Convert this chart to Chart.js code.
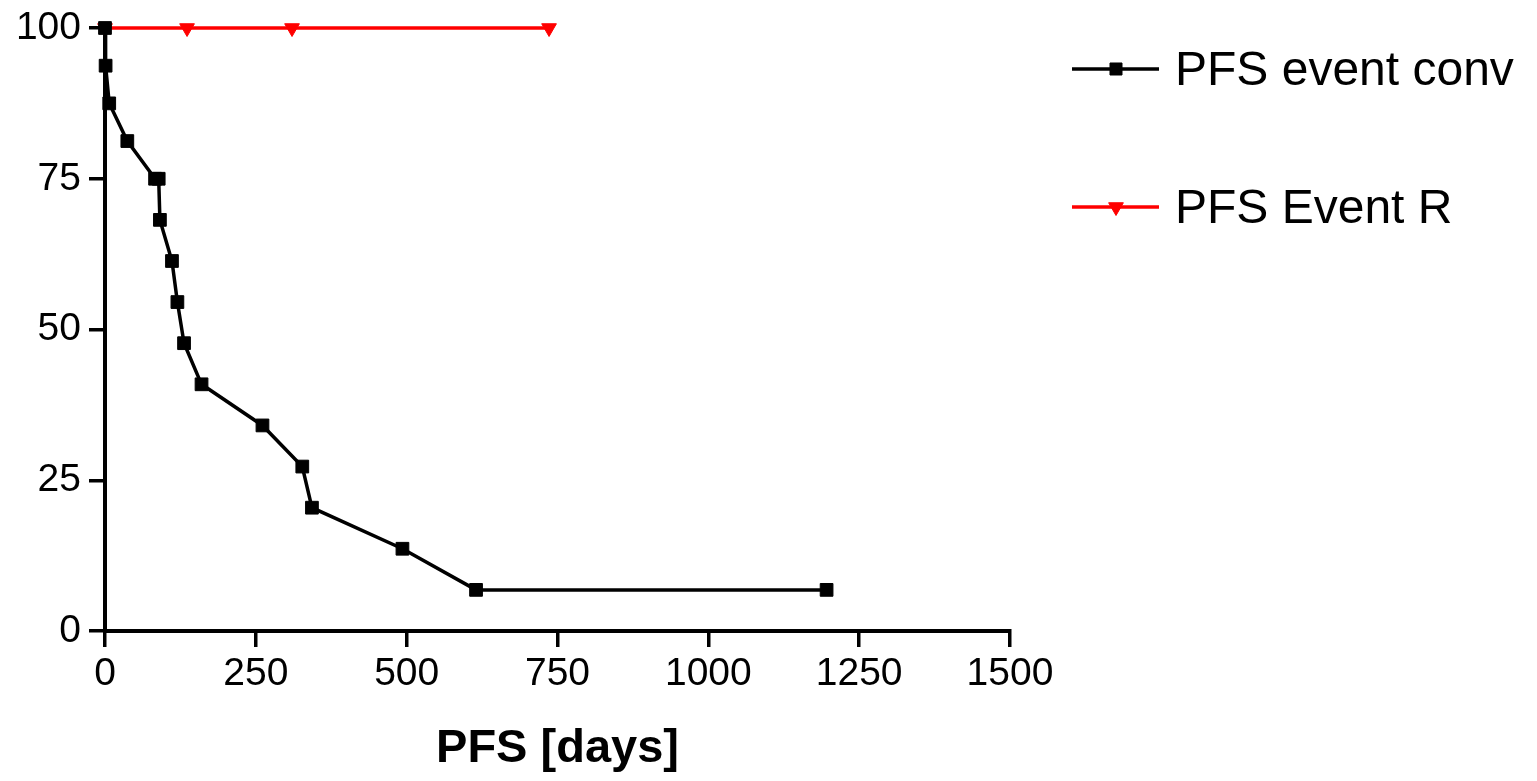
<!DOCTYPE html>
<html>
<head>
<meta charset="utf-8">
<script src="https://cdn.jsdelivr.net/npm/chart.js@4/dist/chart.umd.min.js"></script>
<style>
  html, body { margin: 0; padding: 0; background: #ffffff; }
  #wrap { width: 1537px; height: 781px; }
</style>
</head>
<body>
<div id="wrap"><canvas id="c" width="1537" height="781"></canvas></div>
<script>
// ---- data ----
const convLabel = 'PFS event conv';
const convDays  = [0, 1, 7, 37, 83, 89, 91, 111, 120, 131, 160, 261, 327, 343, 493, 615, 1196];
const convPFS   = [100, 93.75, 87.5, 81.25, 75, 75, 68.18, 61.36, 54.55, 47.73, 40.91, 34.09, 27.27, 20.45, 13.64, 6.82, 6.82];

const rLabel = 'PFS Event R';
const rDays  = [0, 136, 310, 736];
const rPFS   = [100, 100, 100, 100];

const xTicks = [0, 250, 500, 750, 1000, 1250, 1500];
const yTicks = [0, 25, 50, 75, 100];
const xTitle = 'PFS [days]';

const FONT = "'Liberation Sans', Arial, Helvetica, sans-serif";

function toPoints(xs, ys) { return xs.map((x, i) => ({ x: x, y: ys[i] })); }

// custom legend: line + marker + text, drawn at the right
const sideLegend = {
  id: 'sideLegend',
  afterDraw(chart) {
    const ctx = chart.ctx;
    const rows = [69, 207];
    chart.data.datasets.forEach((ds, i) => {
      const y = rows[i];
      ctx.save();
      ctx.strokeStyle = ds.borderColor;
      ctx.lineWidth = ds.borderWidth;
      ctx.beginPath();
      ctx.moveTo(1072, y);
      ctx.lineTo(1159, y);
      ctx.stroke();
      ctx.fillStyle = ds.pointBackgroundColor;
      ctx.strokeStyle = ds.pointBorderColor;
      ctx.lineWidth = 1;
      Chart.helpers.drawPoint(ctx, {
        pointStyle: ds.pointStyle,
        rotation: ds.pointRotation || 0,
        radius: ds.legendRadius,
        borderWidth: 1
      }, 1116, y);
      ctx.fillStyle = '#000000';
      ctx.font = '48px ' + FONT;
      ctx.textAlign = 'left';
      ctx.textBaseline = 'alphabetic';
      ctx.fillText(ds.label, 1175, y + 16);
      ctx.restore();
    });
  }
};

new Chart(document.getElementById('c'), {
  type: 'line',
  data: {
    datasets: [
      {
        label: convLabel,
        data: toPoints(convDays, convPFS),
        borderColor: '#000000',
        backgroundColor: '#000000',
        borderWidth: 3.5,
        pointStyle: 'rect',
        pointRadius: 9,
        legendRadius: 8.5,
        pointBackgroundColor: '#000000',
        pointBorderColor: '#000000',
        pointBorderWidth: 1,
        tension: 0,
        clip: false
      },
      {
        label: rLabel,
        data: toPoints(rDays, rPFS),
        borderColor: '#ff0000',
        backgroundColor: '#ff0000',
        borderWidth: 3.5,
        pointStyle: 'triangle',
        pointRotation: 180,
        pointRadius: 8.5,
        legendRadius: 8.5,
        pointBackgroundColor: '#ff0000',
        pointBorderColor: '#ff0000',
        pointBorderWidth: 1,
        tension: 0,
        clip: false
      }
    ]
  },
  options: {
    responsive: false,
    animation: false,
    layout: { padding: { left: 0, right: 527, top: 28, bottom: 0 } },
    plugins: {
      legend: { display: false },
      tooltip: { enabled: false }
    },
    scales: {
      x: {
        type: 'linear',
        min: 0,
        max: 1500,
        afterFit(scale) { scale.height = 150; scale.paddingLeft = 0; scale.paddingRight = 0; },
        afterBuildTicks(scale) { scale.ticks = xTicks.map(v => ({ value: v })); },
        border: { color: '#000000', width: 4 },
        grid: { drawOnChartArea: false, drawTicks: true, tickLength: 16, color: '#000000', lineWidth: 3.5 },
        ticks: {
          color: '#000000', font: { family: FONT, size: 39 }, padding: 4, maxRotation: 0, autoSkip: false,
          callback: (v) => String(v)
        },
        title: {
          display: true,
          text: xTitle,
          color: '#000000',
          font: { family: FONT, size: 47, weight: 'bold' },
          padding: { top: 0, bottom: 4 }
        }
      },
      y: {
        type: 'linear',
        min: 0,
        max: 100,
        afterFit(scale) { scale.width = 105; scale.paddingTop = 0; scale.paddingBottom = 0; },
        afterBuildTicks(scale) { scale.ticks = yTicks.map(v => ({ value: v })); },
        border: { color: '#000000', width: 4 },
        grid: { drawOnChartArea: false, drawTicks: true, tickLength: 16, color: '#000000', lineWidth: 3.5 },
        ticks: {
          color: '#000000', font: { family: FONT, size: 39 }, padding: 8, autoSkip: false,
          callback: (v) => String(v)
        }
      }
    }
  },
  plugins: [sideLegend]
});
</script>
</body>
</html>
